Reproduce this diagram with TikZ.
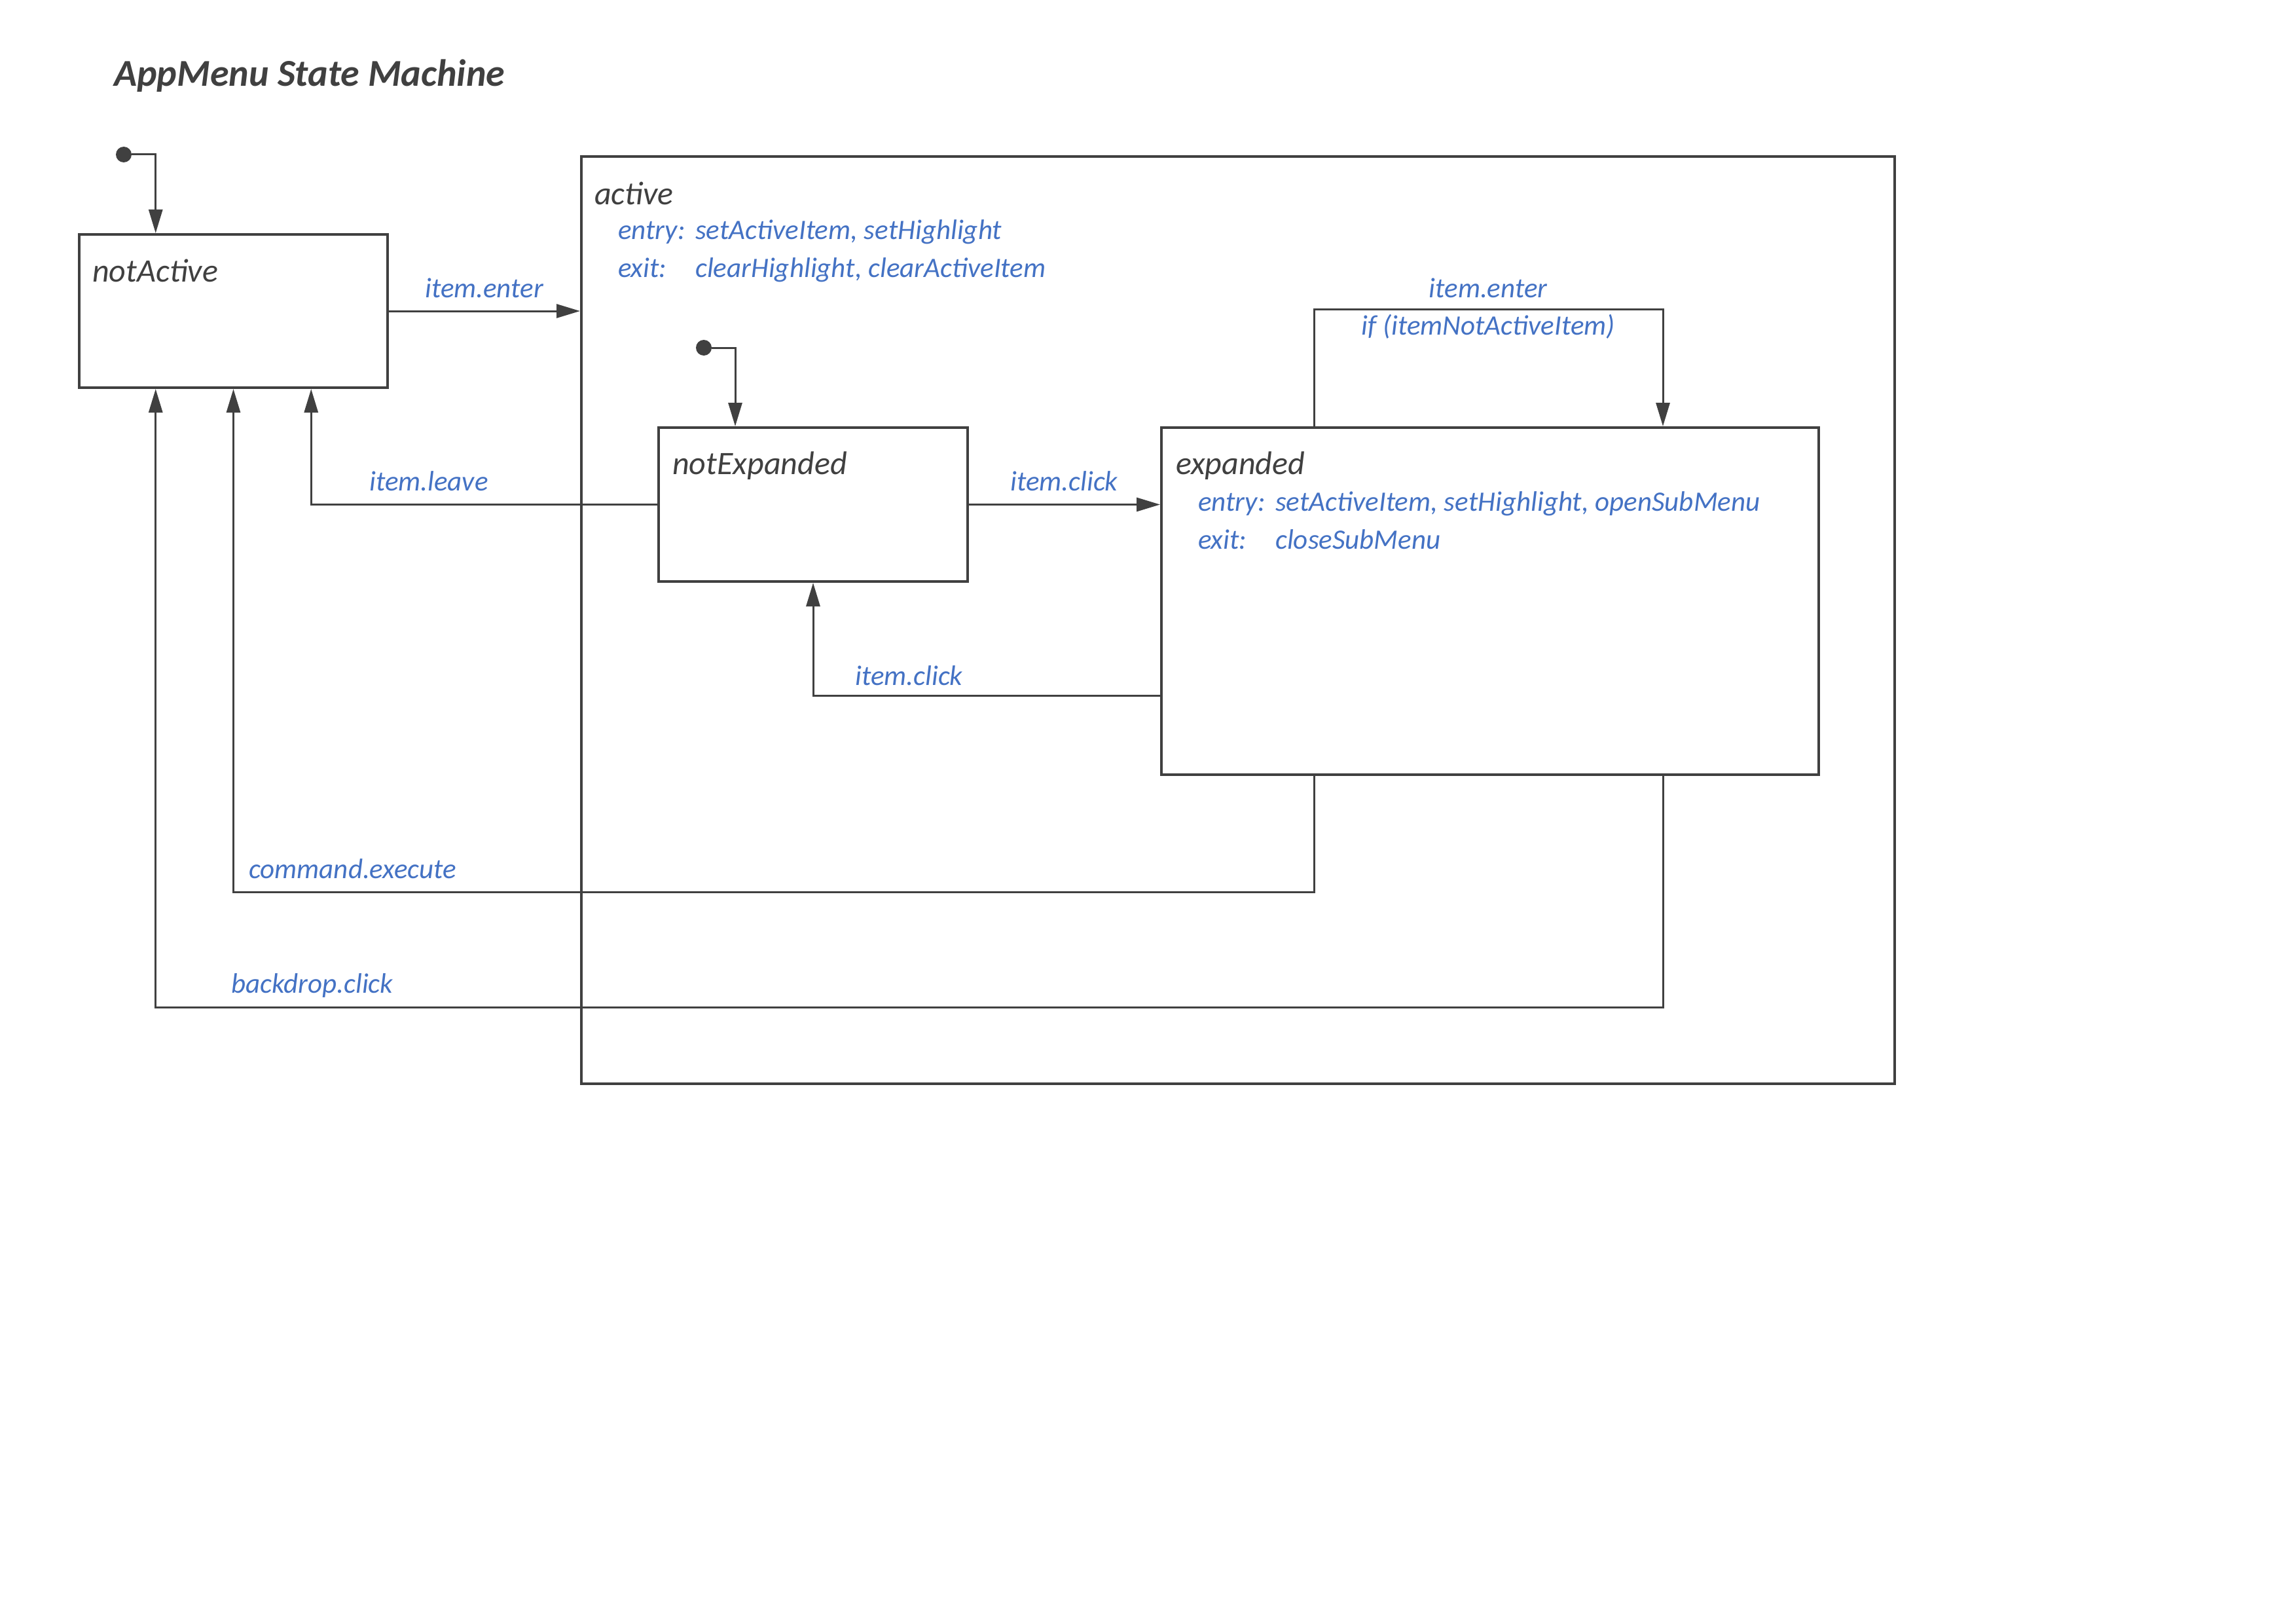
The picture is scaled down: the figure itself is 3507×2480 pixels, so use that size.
\documentclass[tikz,border=0pt]{standalone}
\usepackage{fontspec}
\setmainfont{Carlito}
\usetikzlibrary{arrows.meta,calc}
\definecolor{ink}{HTML}{404040}
\definecolor{evt}{HTML}{4472C4}
\begin{document}
\begin{tikzpicture}[x=1pt,y=-1pt,
  statebox/.style={draw=ink, line width=4pt, rectangle, anchor=north west, inner sep=0pt},
  tr/.style={draw=ink, line width=3pt, -{Triangle[length=36pt,width=21pt]}},
  initdot/.style={circle, fill=ink, minimum size=24pt, inner sep=0pt},
  sname/.style={anchor=base west, text=ink, font=\fontsize{50}{60}\selectfont\itshape, inner sep=0pt},
  evlabel/.style={anchor=base west, text=evt, font=\fontsize{43}{50}\selectfont\itshape, inner sep=0pt},
  act/.style={evlabel},
]
\useasboundingbox (0,0) rectangle (3507,2480);
\fill[white] (0,0) rectangle (3507,2480);

% title
\node[anchor=base west, text=ink, inner sep=0pt,
      font=\fontsize{58}{68}\selectfont\bfseries\itshape] (title) at (174,132) {AppMenu State Machine};

% states
\node[statebox, minimum width=471pt, minimum height=234pt] (notActive) at (119,356) {};
\node[statebox, minimum width=2006pt, minimum height=1416pt] (active) at (886,237) {};
\node[statebox, minimum width=472pt, minimum height=235pt] (notExpanded) at (1004,651) {};
\node[statebox, minimum width=1004pt, minimum height=530pt] (expanded) at (1772,651) {};

% state names and actions
\node[sname] (notActiveName) at (141,431) {notActive};
\node[sname] (activeName) at (908,313) {active};
\node[act] (activeEntry) at (944,366) {\makebox[118pt][l]{entry:}setActiveItem, setHighlight};
\node[act] (activeExit) at (944,424) {\makebox[118pt][l]{exit:}clearHighlight, clearActiveItem};
\node[sname] (notExpandedName) at (1027,724) {notExpanded};
\node[sname] (expandedName) at (1796,724) {expanded};
\node[act] (expandedEntry) at (1830,780) {\makebox[118pt][l]{entry:}setActiveItem, setHighlight, openSubMenu};
\node[act] (expandedExit) at (1830,838) {\makebox[118pt][l]{exit:}closeSubMenu};

% initial pseudo-states
\node[initdot] (init0) at (189,236) {};
\node[initdot] (init1) at (1075,531) {};

% attachment points on the state borders
\coordinate (naTop) at ($(notActive.north west)!0.25!(notActive.north east)$);
\coordinate (naBotL) at ($(notActive.south west)!0.25!(notActive.south east)$);
\coordinate (naBotR) at ($(notActive.south west)!0.75!(notActive.south east)$);
\coordinate (neTop) at ($(notExpanded.north west)!0.25!(notExpanded.north east)$);
\coordinate (exLoopA) at ($(expanded.north west)+(235,0)$);
\coordinate (exLoopB) at ($(expanded.north west)+(768,0)$);
\coordinate (exBotA) at ($(expanded.south west)+(235,0)$);
\coordinate (exBotB) at ($(expanded.south west)+(768,0)$);
\coordinate (exLeft) at ($(expanded.north west)+(0,411)$);

% transitions
\draw[tr] (init0) -| (naTop);
\draw[tr] (init1) -| (neTop);
\draw[tr] (notActive.east) -- (notActive.east -| active.west);
\draw[tr] (notExpanded.west) -| (naBotR);
\draw[tr] (notExpanded.east) -- (notExpanded.east -| expanded.west);
\draw[tr] (exLeft) -| (notExpanded.south);
\draw[tr] (exLoopA) -- ++(0,-179) -| (exLoopB);
\draw[tr] (exBotA) -- ++(0,177) -| (notActive.south);
\draw[tr] (exBotB) -- ++(0,353) -| (naBotL);

% transition labels
\node[evlabel] (lblEnter) at (649,454) {item.enter};
\node[evlabel] (lblLeave) at (564,749) {item.leave};
\node[evlabel] (lblClick) at (1543,749) {item.click};
\node[evlabel, anchor=base] (lblLoop) at (2273,454) {item.enter};
\node[evlabel, anchor=base] (lblGuard) at (2273,511) {if (itemNotActiveItem)};
\node[evlabel] (lblBack) at (1306,1046) {item.click};
\node[evlabel] (lblCmd) at (380,1341) {command.execute};
\node[evlabel] (lblBackdrop) at (353,1516) {backdrop.click};
\end{tikzpicture}
\end{document}
